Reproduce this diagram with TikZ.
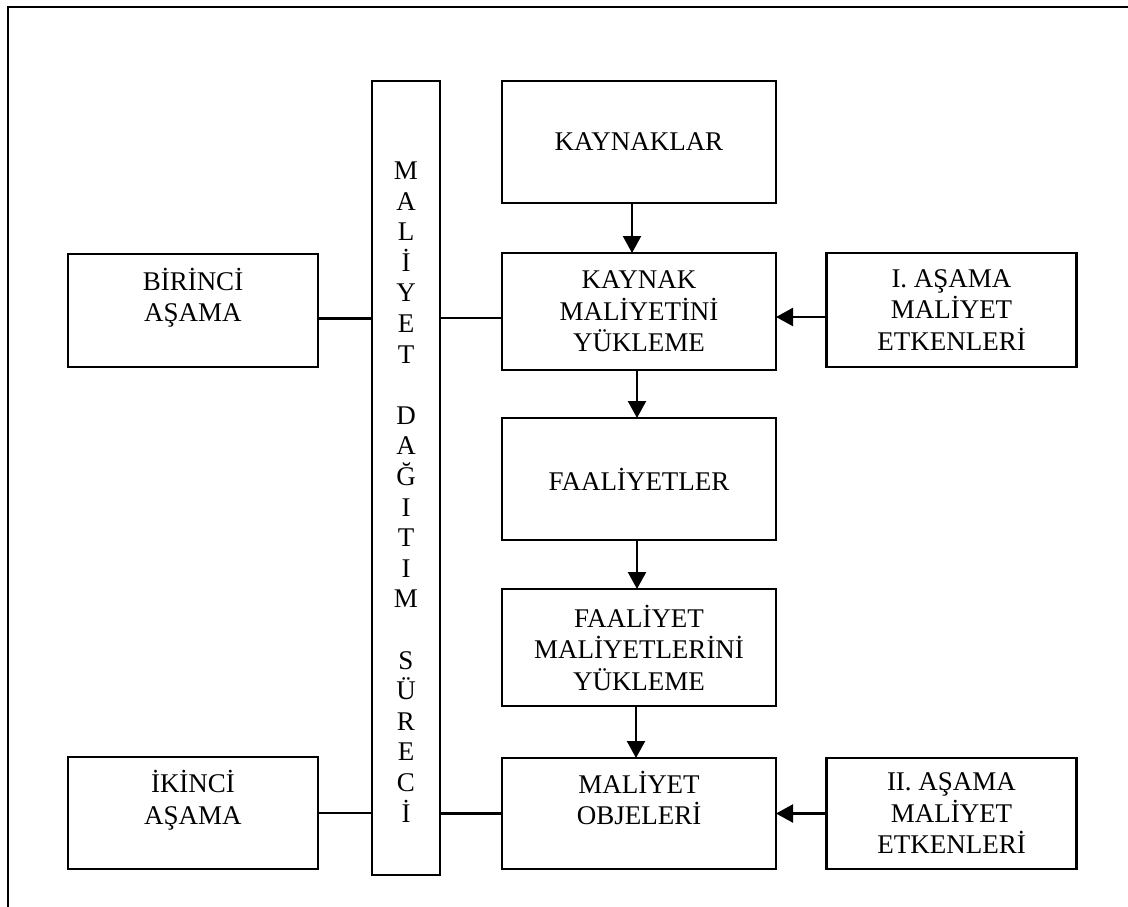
\documentclass[tikz,border=0pt]{standalone}
\usepackage{fontspec}
\setmainfont{Liberation Serif}
\usetikzlibrary{arrows.meta}
\begin{document}
\begin{tikzpicture}[x=1pt,y=-1pt,
  box/.style={draw,line width=2.3pt,inner sep=0pt,outer sep=0pt,align=center,
    font=\fontsize{27}{31.5}\selectfont},
  link/.style={line width=2.3pt},
  arr/.style={line width=2.3pt,-{Triangle[length=17pt,width=18pt]}},
  frame/.style={line width=2.5pt}]
\useasboundingbox (0,0) rectangle (1128,907);

% outer frame (top and left edges)
\coordinate (fbl) at (8,907);
\coordinate (ftl) at (8,7);
\coordinate (ftr) at (1128,7);
\draw[frame] (fbl) -- (ftl) -- (ftr);

% vertical process bar
\node[box,minimum width=68pt,minimum height=794pt] (bar) at (406,478) {};
\node[align=center,inner sep=0pt,font=\fontsize{27}{30.6}\selectfont] (barlabel) at (406,492)
  {M\\A\\L\\İ\\Y\\E\\T\\[0pt]~\\D\\A\\Ğ\\I\\T\\I\\M\\[0pt]~\\S\\Ü\\R\\E\\C\\İ};

% central column
\node[box,minimum width=274pt,minimum height=122pt] (kay) at (639,142) {KAYNAKLAR};
\node[box,minimum width=274pt,minimum height=117pt] (kmy) at (639,311.5) {KAYNAK\\MALİYETİNİ\\YÜKLEME};
\node[box,minimum width=274pt,minimum height=122pt] (fa) at (639,479) {FAALİYETLER};
\node[box,minimum width=274pt,minimum height=117pt] (fmy) at (639,647.5) {FAALİYET\\MALİYETLERİNİ\\YÜKLEME};
\node[box,minimum width=274pt,minimum height=111pt] (mo) at (639,813.5) {MALİYET\\OBJELERİ\\~};

% stage boxes on the left
\node[box,minimum width=250pt,minimum height=113pt] (bir) at (193,310.5) {BİRİNCİ\\AŞAMA\\~};
\node[box,minimum width=250pt,minimum height=112pt] (iki) at (193,813) {İKİNCİ\\AŞAMA\\~};

% cost driver boxes on the right
\node[box,minimum width=250pt,minimum height=114pt] (e1) at (951.5,310) {I. AŞAMA\\MALİYET\\ETKENLERİ};
\node[box,minimum width=250pt,minimum height=111pt] (e2) at (951.5,813.5) {II. AŞAMA\\MALİYET\\ETKENLERİ};

% flow down the central column
\draw[arr] ([xshift=-7pt]kay.south) -- ([xshift=-7pt]kmy.north);
\draw[arr] ([xshift=-2pt]kmy.south) -- ([xshift=-2pt]fa.north);
\draw[arr] ([xshift=-2pt]fa.south) -- ([xshift=-2pt]fmy.north);
\draw[arr] ([xshift=-3pt]fmy.south) -- ([xshift=-3pt]mo.north);

% cost drivers into the central column
\draw[arr] ([yshift=-7pt]e1.west) -- ([yshift=-7pt]e1.west -| kmy.east);
\draw[arr] (e2.west) -- (e2.west -| mo.east);

% stage links through the bar
\draw[link] ([yshift=-8pt]bir.east) -- ([yshift=-8pt]bir.east -| bar.west);
\draw[link] ([yshift=-6.5pt]kmy.west) -- ([yshift=-6.5pt]kmy.west -| bar.east);
\draw[link] (iki.east) -- (iki.east -| bar.west);
\draw[link] (mo.west) -- (mo.west -| bar.east);
\end{tikzpicture}
\end{document}
